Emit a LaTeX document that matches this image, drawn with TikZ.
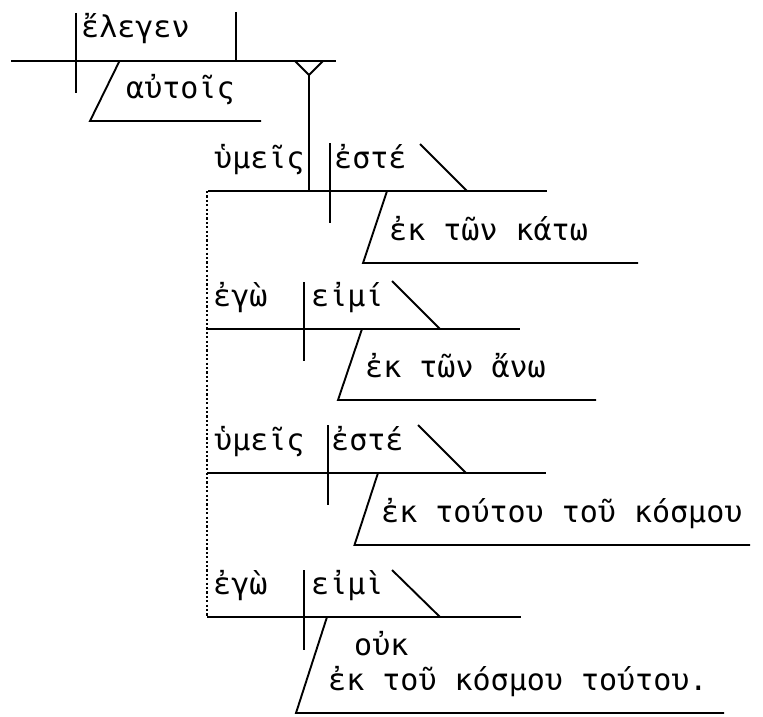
\documentclass[tikz,border=0pt]{standalone}
\usepackage{fontspec}
\setmainfont{DejaVu Sans Mono}
\begin{document}
\begin{tikzpicture}[x=1pt,y=-1pt,
  ln/.style={line width=1.9pt},
  dl/.style={line width=2.6pt, dash pattern=on 2.2pt off 2.2pt},
  wd/.style={anchor=base west, inner sep=0pt, font=\fontsize{30}{36}\selectfont}]
\useasboundingbox (0,0) rectangle (763,717);
% ---- main clause
\draw[ln] (11,61) -- (336,61);
\draw[ln] (75.6,13) -- (75.6,93);
\draw[ln] (235.6,12) -- (235.6,61);
\draw[ln] (119.5,61) -- (90,121) -- (261,121);
\node[wd] (v0) at (81,38) {ἔλεγεν};
\node[wd] (io) at (126,98) {αὐτοῖς};
% Y stand
\coordinate (yj) at (309,75);
\draw[ln] (295,61) -- (yj) -- (323,61);
\draw[ln] (yj) -- (309,191);
% ---- clause 1
\draw[ln] (208,191) -- (547,191);
\draw[ln] (330,143) -- (330,223);
\draw[ln] (420,144) -- (467,191);
\draw[ln] (387,191) -- (363,263) -- (638,263);
\node[wd] (s1) at (214,168) {ὑμεῖς};
\node[wd] (p1) at (334,168) {ἐστέ};
\node[wd] (m1) at (389,240) {ἐκ τῶν κάτω};
% ---- clause 2
\draw[ln] (207,329) -- (520,329);
\draw[ln] (304,282) -- (304,361);
\draw[ln] (392,281) -- (440,329);
\draw[ln] (362,329) -- (338,400) -- (596,400);
\node[wd] (s2) at (213,306) {ἐγὼ};
\node[wd] (p2) at (311,306) {εἰμί};
\node[wd] (m2) at (365,377) {ἐκ τῶν ἄνω};
% ---- clause 3
\draw[ln] (207,473) -- (546,473);
\draw[ln] (328,425) -- (328,505);
\draw[ln] (418,425) -- (466,473);
\draw[ln] (378,473) -- (354.5,545) -- (750,545);
\node[wd] (s3) at (214,450) {ὑμεῖς};
\node[wd] (p3) at (331,450) {ἐστέ};
\node[wd] (m3) at (381,522) {ἐκ τούτου τοῦ κόσμου};
% ---- clause 4
\draw[ln] (207,617) -- (521,617);
\draw[ln] (304,570) -- (304,650);
\draw[ln] (392,570) -- (440,617);
\draw[ln] (327,617) -- (296,713) -- (724,713);
\node[wd] (s4) at (213,594) {ἐγὼ};
\node[wd] (p4) at (311,594) {εἰμὶ};
\node[wd] (n4) at (354,655) {οὐκ};
\node[wd] (m4) at (328,690) {ἐκ τοῦ κόσμου τούτου.};
% ---- dotted connector
\draw[dl] (207,191) -- (207,617);
\end{tikzpicture}
\end{document}
